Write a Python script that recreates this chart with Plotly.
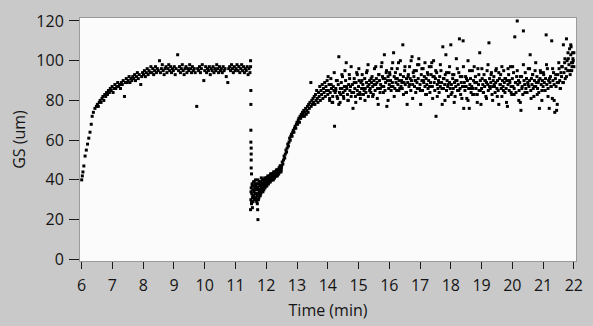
import plotly.graph_objects as go

# ---- data ----
# Phase 1: growth and plateau
t_a = [6.00,6.02,6.04,6.07,6.11,6.15,6.19,6.23,6.27,6.31,
       6.34,6.38,6.43,6.48,6.51,6.54,6.57,6.60,6.63,6.66,
       6.69,6.72,6.75,
       6.78,6.81,6.84,6.87,6.90,6.93,6.96,6.99,7.02,7.05,
       7.08,7.11,7.14,7.17,7.20,7.23,7.26,7.29,7.32,7.35,
       7.39,7.42,7.45,7.48,7.51,7.54,7.57,7.60,7.63,7.66,
       7.69,7.72,7.75,7.78,7.81,7.84,7.87,7.92,7.95,7.98,
       8.01,8.04,8.07,8.10,8.13,8.16,8.19,8.22,8.25,8.28,
       8.31,8.34,8.37,8.40,8.43,8.46,8.49,8.53,8.56,8.59,
       8.62,8.65,8.68,8.71,8.74,8.77,8.80,8.83,8.86,8.89,
       8.92,8.95,8.98,9.01,9.04,9.07,9.12,9.15,9.18,9.21,
       9.24,9.27,9.30,9.33,9.36,9.39,9.42,9.45,9.48,9.51,
       9.54,9.57,9.60,9.63,9.66,9.69,9.74,9.77,9.80,9.83,
       9.86,9.89,9.92,9.97,10.00,10.03,10.06,10.09,10.12,10.15,
       10.18,10.21,10.24,10.27,10.30,10.33,10.36,10.39,10.42,10.45,
       10.48,10.51,10.54,10.57,10.60,10.63,10.66,10.70,10.75,10.78,
       10.81,10.84,10.87,10.90,10.93,10.96,10.99,11.02,11.05,11.08,
       11.11,11.14,11.17,11.20,11.23,11.26,11.29,11.32,11.35,11.38,
       11.41,11.44,11.47]
gs_a = [40,42,44,47,52,55,58,61,64,68,
        72,74,76,77,78,77,79,80,79,81,
        82,80,83,
        82,84,83,85,84,86,85,87,84,86,
        88,86,87,89,87,88,86,89,88,90,
        82,89,91,89,90,92,89,91,90,92,
        91,93,90,92,94,91,93,88,92,94,
        93,95,92,94,96,93,95,94,97,94,
        96,93,95,97,94,96,95,100,94,96,
        98,95,93,96,97,94,96,98,95,97,
        94,96,95,97,93,96,103,95,97,94,
        96,98,95,93,96,97,94,96,95,98,
        96,94,97,95,96,94,77,96,95,97,
        94,96,98,90,95,97,94,96,95,97,
        93,96,95,97,94,96,95,98,96,94,
        97,95,96,94,97,95,96,92,89,96,
        97,95,98,96,94,97,95,96,98,95,
        97,94,96,98,95,97,94,96,95,97,
        93,96,94]

# Sudden drop
t_drop = [11.49,11.49,11.50,11.50,11.50,11.50,11.51,11.51,11.51,11.51,11.52,11.49,11.55,11.71,11.72,11.73]
gs_drop = [100,97,85,78,65,59,56,53,50,46,43,25,26,28,25,20]

# Phase 2: dense low cluster
t_b = [11.50,11.51,11.52,11.53,11.54,11.55,11.56,11.57,11.58,11.59,
       11.60,11.61,11.62,11.63,11.64,11.65,11.66,11.67,11.68,11.69,
       11.70,11.71,11.72,11.73,11.74,11.75,11.76,11.77,11.78,11.79,
       11.80,11.81,11.82,11.83,11.84,11.85,11.86,11.87,11.88,11.89,
       11.90,11.91,11.92,11.93,11.94,11.95,11.96,11.97,11.98,11.99,
       12.00,12.01,12.02,12.03,12.04,12.05,12.06,12.07,12.08,12.09,
       12.10,12.11,12.12,12.13,12.14,12.15,12.16,12.17,12.18,12.19,
       12.20,12.21,12.22,12.23,12.24,12.25,12.26,12.27,12.28,12.29,
       12.30,12.31,12.32,12.33,12.34,12.35,12.36,12.37,12.38,12.39,
       12.40,12.41,12.42,12.43,12.44,12.45,12.46,12.47,12.48,12.49]
gs_b = [30,36,28,33,38,31,35,29,37,32,
        34,39,30,36,33,40,31,37,35,29,
        38,32,36,40,33,35,31,39,34,37,
        35,39,33,37,41,34,38,36,40,34,
        37,40,35,39,38,41,36,39,37,40,
        38,41,37,40,39,42,38,41,40,39,
        40,42,39,41,43,40,42,41,43,40,
        42,41,43,40,44,42,43,41,44,43,
        43,42,44,45,43,44,42,45,44,43,
        45,44,46,44,45,47,45,46,44,46]
t_b2 = [11.505,11.525,11.545,11.565,11.585,11.605,11.625,11.645,11.665,11.685,
        11.705,11.725,11.745,11.765,11.785,11.805,11.825,11.845,11.865,11.885,
        11.905,11.925,11.945,11.965,11.985,12.005,12.025,12.045,12.065,12.085,
        12.105,12.125,12.145,12.165,12.185,12.205,12.225,12.245,12.265,12.285,
        12.305,12.325,12.345,12.365,12.385,12.405,12.425,12.445,12.465,12.485]
gs_b2 = [34,29,37,32,39,31,35,38,33,30,
         33,36,30,38,35,32,39,36,38,35,
         38,36,40,37,39,37,41,39,38,40,
         41,39,42,40,43,41,42,43,41,42,
         44,42,43,45,44,43,46,45,47,45]

# Phase 2: recovery ramp
t_c = [12.50,12.52,12.54,12.56,12.58,12.60,12.62,12.64,12.66,12.68,
       12.70,12.72,12.74,12.76,12.78,12.80,12.82,12.84,12.86,12.88,
       12.90,12.92,12.94,12.96,12.98,13.00,13.02,13.04,13.06,13.08,
       13.10,13.12,13.14,13.16,13.18,13.20,13.22,13.24,13.26,13.28,
       13.30,13.32,13.34,13.36,13.38,13.40,13.42,13.45,13.46,13.48,
       13.50,13.52,13.54,13.56,13.58,13.60,13.62,13.64,13.66,13.68,
       13.70,13.72,13.74,13.76,13.78,13.80,13.82,13.84,13.86,13.88,
       13.90,13.92,13.94,13.96,13.98]
gs_c = [47,49,48,50,52,51,53,55,54,56,
        58,57,59,61,60,62,63,62,64,65,
        64,66,67,66,68,69,68,70,71,69,
        72,71,73,72,74,73,75,72,74,76,
        73,75,77,74,78,76,79,89,77,80,
        78,81,79,82,78,83,80,85,81,79,
        84,82,87,80,85,83,88,81,86,84,
        89,82,87,85,90]

# Phase 2: noisy plateau
t_d = [14.00,14.02,14.04,14.06,14.08,14.10,14.12,14.14,14.16,14.18,
       14.20,14.22,14.24,14.26,14.28,14.30,14.32,14.34,14.36,14.38,
       14.40,14.42,14.44,14.46,14.48,14.50,14.52,14.54,14.56,14.58,
       14.60,14.62,14.64,14.66,14.68,14.70,14.72,14.74,14.76,14.78,
       14.80,14.82,14.84,14.86,14.88,14.90,14.92,14.94,14.96,14.98,
       15.00,15.02,15.04,15.06,15.08,15.10,15.12,15.14,15.16,15.18,
       15.20,15.22,15.24,15.26,15.28,15.30,15.32,15.34,15.36,15.38,
       15.40,15.42,15.44,15.46,15.48,15.50,15.52,15.54,15.56,15.58,
       15.60,15.62,15.64,15.66,15.68,15.70,15.72,15.74,15.76,15.78,
       15.80,15.82,15.84,15.86,15.88,15.90,15.92,15.94,15.96,15.98,
       16.00,16.02,16.04,16.06,16.08,16.10,16.12,16.14,16.16,16.18,
       16.20,16.22,16.24,16.26,16.28,16.30,16.32,16.34,16.36,16.38,
       16.40,16.42,16.44,16.46,16.48,16.50,16.52,16.54,16.56,16.58,
       16.60,16.62,16.64,16.66,16.68,16.70,16.72,16.74,16.76,16.78,
       16.80,16.82,16.84,16.86,16.88,16.90,16.92,16.94,16.96,16.98,
       17.00,17.02,17.04,17.06,17.08,17.10,17.12,17.14,17.16,17.18,
       17.20,17.22,17.24,17.26,17.28,17.30,17.32,17.34,17.36,17.38,
       17.40,17.42,17.44,17.46,17.48,17.50,17.52,17.54,17.56,17.58,
       17.60,17.62,17.64,17.66,17.68,17.70,17.72,17.74,17.76,17.78,
       17.80,17.82,17.84,17.86,17.88,17.90,17.92,17.94,17.96,17.98,
       18.00,18.02,18.04,18.06,18.08,18.10,18.12,18.14,18.16,18.18,
       18.20,18.22,18.24,18.26,18.28,18.30,18.32,18.34,18.36,18.38,
       18.40,18.42,18.44,18.46,18.48,18.50,18.52,18.54,18.56,18.58,
       18.60,18.62,18.64,18.66,18.68,18.70,18.72,18.74,18.76,18.78,
       18.80,18.82,18.84,18.86,18.88,18.90,18.92,18.94,18.96,18.98,
       19.00,19.02,19.04,19.06,19.08,19.10,19.12,19.14,19.16,19.18,
       19.20,19.22,19.24,19.26,19.28,19.30,19.32,19.34,19.36,19.38,
       19.40,19.42,19.44,19.46,19.48,19.50,19.52,19.54,19.56,19.58,
       19.60,19.62,19.64,19.66,19.68,19.70,19.72,19.74,19.76,19.78,
       19.80,19.82,19.84,19.86,19.88,19.90,19.92,19.94,19.96,19.98,
       20.00,20.02,20.04,20.06,20.08,20.10,20.12,20.14,20.16,20.18,
       20.20,20.22,20.24,20.26,20.28,20.30,20.32,20.34,20.36,20.38,
       20.40,20.42,20.44,20.46,20.48,20.50,20.52,20.54,20.56,20.58,
       20.60,20.62,20.64,20.66,20.68,20.70,20.72,20.74,20.76,20.78,
       20.80,20.82,20.84,20.86,20.88,20.90,20.92,20.94,20.96,20.98,
       21.00,21.02,21.04,21.06,21.08,21.10,21.12,21.14,21.16,21.18,
       21.20,21.22,21.24,21.26,21.28,21.30,21.32,21.34,21.36,21.38,
       21.40,21.42,21.44,21.46,21.48,21.50,21.52,21.54,21.56,21.58,
       21.60,21.62,21.64,21.66,21.68,21.70,21.72,21.74,21.76,21.78,
       21.80,21.82,21.84,21.86,21.88,21.90,21.92,21.94,21.96,21.98,
       21.90,21.93,21.97,22.00,22.00]
gs_d = [83,85,88,80,84,91,86,79,82,87,
        85,67,84,86,90,82,81,88,102,84,
        79,83,89,86,92,84,81,87,85,90,
        99,86,83,80,88,93,85,87,82,84,
        88,76,84,91,86,82,89,94,85,83,
        87,90,84,81,89,86,93,88,83,85,
        91,86,84,89,95,87,82,88,90,86,
        84,89,92,87,83,90,96,85,88,91,
        89,86,78,93,90,84,88,97,87,92,
        91,87,103,85,89,94,77,90,92,86,
        88,93,90,85,96,89,87,104,92,86,
        94,89,85,91,88,99,90,86,93,87,
        90,86,108,92,89,95,88,84,91,78,
        89,93,87,97,91,85,90,102,88,94,
        92,87,90,84,95,89,98,91,101,86,
        88,78,93,90,85,96,89,92,87,83,
        91,88,94,86,90,97,84,89,93,99,
        87,92,100,89,85,91,72,94,88,86,
        90,84,92,87,95,89,78,107,86,91,
        88,93,103,85,90,87,82,94,89,86,
        108,88,84,91,86,93,89,82,87,101,
        90,85,88,94,111,86,83,89,92,87,
        110,76,89,85,92,87,81,90,100,86,
        76,88,91,84,87,95,86,90,83,89,
        92,86,89,83,96,88,85,104,90,78,
        86,91,88,84,93,87,90,82,89,95,
        88,85,109,91,86,89,94,83,87,90,
        92,87,84,89,96,86,90,85,78,91,
        88,93,86,82,90,87,95,89,84,91,
        86,90,77,88,93,85,89,97,87,83,
        91,87,94,86,112,89,84,92,120,88,
        90,85,89,79,75,92,87,83,115,90,
        88,94,86,91,84,89,96,87,90,103,
        85,91,88,93,86,82,90,95,87,89,
        92,86,89,84,76,91,94,88,85,90,
        87,93,89,85,91,113,88,96,86,90,
        76,89,92,87,110,81,90,94,88,74,
        91,87,75,78,93,89,96,90,86,94,
        92,97,89,108,94,99,91,96,111,100,
        95,101,98,106,93,103,99,97,104,100,
        108,95,101,104,97]
t_d2 = [14.01,14.06,14.11,14.16,14.21,14.26,14.31,14.36,14.41,14.46,
        14.51,14.56,14.61,14.66,14.71,14.76,14.81,14.86,14.91,14.96,
        15.01,15.06,15.11,15.16,15.21,15.26,15.31,15.36,15.41,15.46,
        15.51,15.56,15.61,15.66,15.71,15.76,15.81,15.86,15.91,15.96,
        16.01,16.06,16.11,16.16,16.21,16.26,16.31,16.36,16.41,16.46,
        16.51,16.56,16.61,16.66,16.71,16.76,16.81,16.86,16.91,16.96,
        17.01,17.06,17.11,17.16,17.21,17.26,17.31,17.36,17.41,17.46,
        17.51,17.56,17.61,17.66,17.71,17.76,17.81,17.86,17.91,17.96,
        18.01,18.06,18.11,18.16,18.21,18.26,18.31,18.36,18.41,18.46,
        18.51,18.56,18.61,18.66,18.71,18.76,18.81,18.86,18.91,18.96,
        19.01,19.06,19.11,19.16,19.21,19.26,19.31,19.36,19.41,19.46,
        19.51,19.56,19.61,19.66,19.71,19.76,19.81,19.86,19.91,19.96,
        20.01,20.06,20.11,20.16,20.21,20.26,20.31,20.36,20.41,20.46,
        20.51,20.56,20.61,20.66,20.71,20.76,20.81,20.86,20.91,20.96,
        21.01,21.06,21.11,21.16,21.21,21.26,21.31,21.36,21.41,21.46,
        21.51,21.56,21.61,21.66,21.71,21.76,21.81,21.86,21.91,21.96]
gs_d2 = [92,81,88,79,94,85,90,78,86,93,
         82,95,87,80,91,97,84,89,79,93,
         96,83,90,86,80,94,98,85,91,82,
         88,97,81,93,86,99,84,91,95,80,
         94,87,99,82,91,96,85,100,89,83,
         97,84,92,88,100,81,95,90,86,98,
         85,96,90,99,83,93,87,97,81,92,
         95,82,89,98,86,91,80,94,88,97,
         83,93,79,90,96,85,92,81,97,87,
         91,80,95,86,83,97,89,79,93,85,
         96,84,90,81,98,87,93,80,88,95,
         82,94,88,97,85,91,79,96,90,84,
         97,83,89,95,80,92,86,98,84,91,
         88,96,81,93,87,99,83,90,95,80,
         94,85,98,82,91,87,96,80,93,89,
         99,86,97,89,101,92,104,95,107,99]

x_ticks = [6,7,8,9,10,11,12,13,14,15,16,17,18,19,20,21,22]
y_ticks = [0,20,40,60,80,100,120]

times = t_a + t_drop + t_b + t_b2 + t_c + t_d + t_d2
values = gs_a + gs_drop + gs_b + gs_b2 + gs_c + gs_d + gs_d2

fig = go.Figure(go.Scatter(
    x=times, y=values, mode="markers",
    marker=dict(symbol="square", size=3, color="black", line=dict(width=0)),
    hoverinfo="skip", showlegend=False))

font = dict(family="Open Sans, Noto Sans, sans-serif", size=16, color="#141414")
fig.update_layout(
    width=593, height=326,
    margin=dict(l=80, r=10, t=17, b=61),
    paper_bgcolor="#c9c9c9", plot_bgcolor="#fbfbfb",
    font=font,
    xaxis=dict(range=[5.945, 22.07], tickvals=x_ticks, ticks="outside", ticklen=7,
               tickcolor="#1a1a1a", tickwidth=1, showgrid=False, zeroline=False,
               showline=True, linecolor="#9a9a9a", mirror=True, ticklabelstandoff=3,
               title=dict(text="Time (min)", standoff=9, font=font)),
    yaxis=dict(range=[-0.84, 121.5], tickvals=y_ticks, ticks="outside", ticklen=10,
               tickcolor="#1a1a1a", tickwidth=1, showgrid=False, zeroline=False,
               showline=True, linecolor="#9a9a9a", mirror=True, ticklabelstandoff=2,
               title=dict(text="GS (um)", standoff=6, font=font)),
)
fig.write_html("out.html")
